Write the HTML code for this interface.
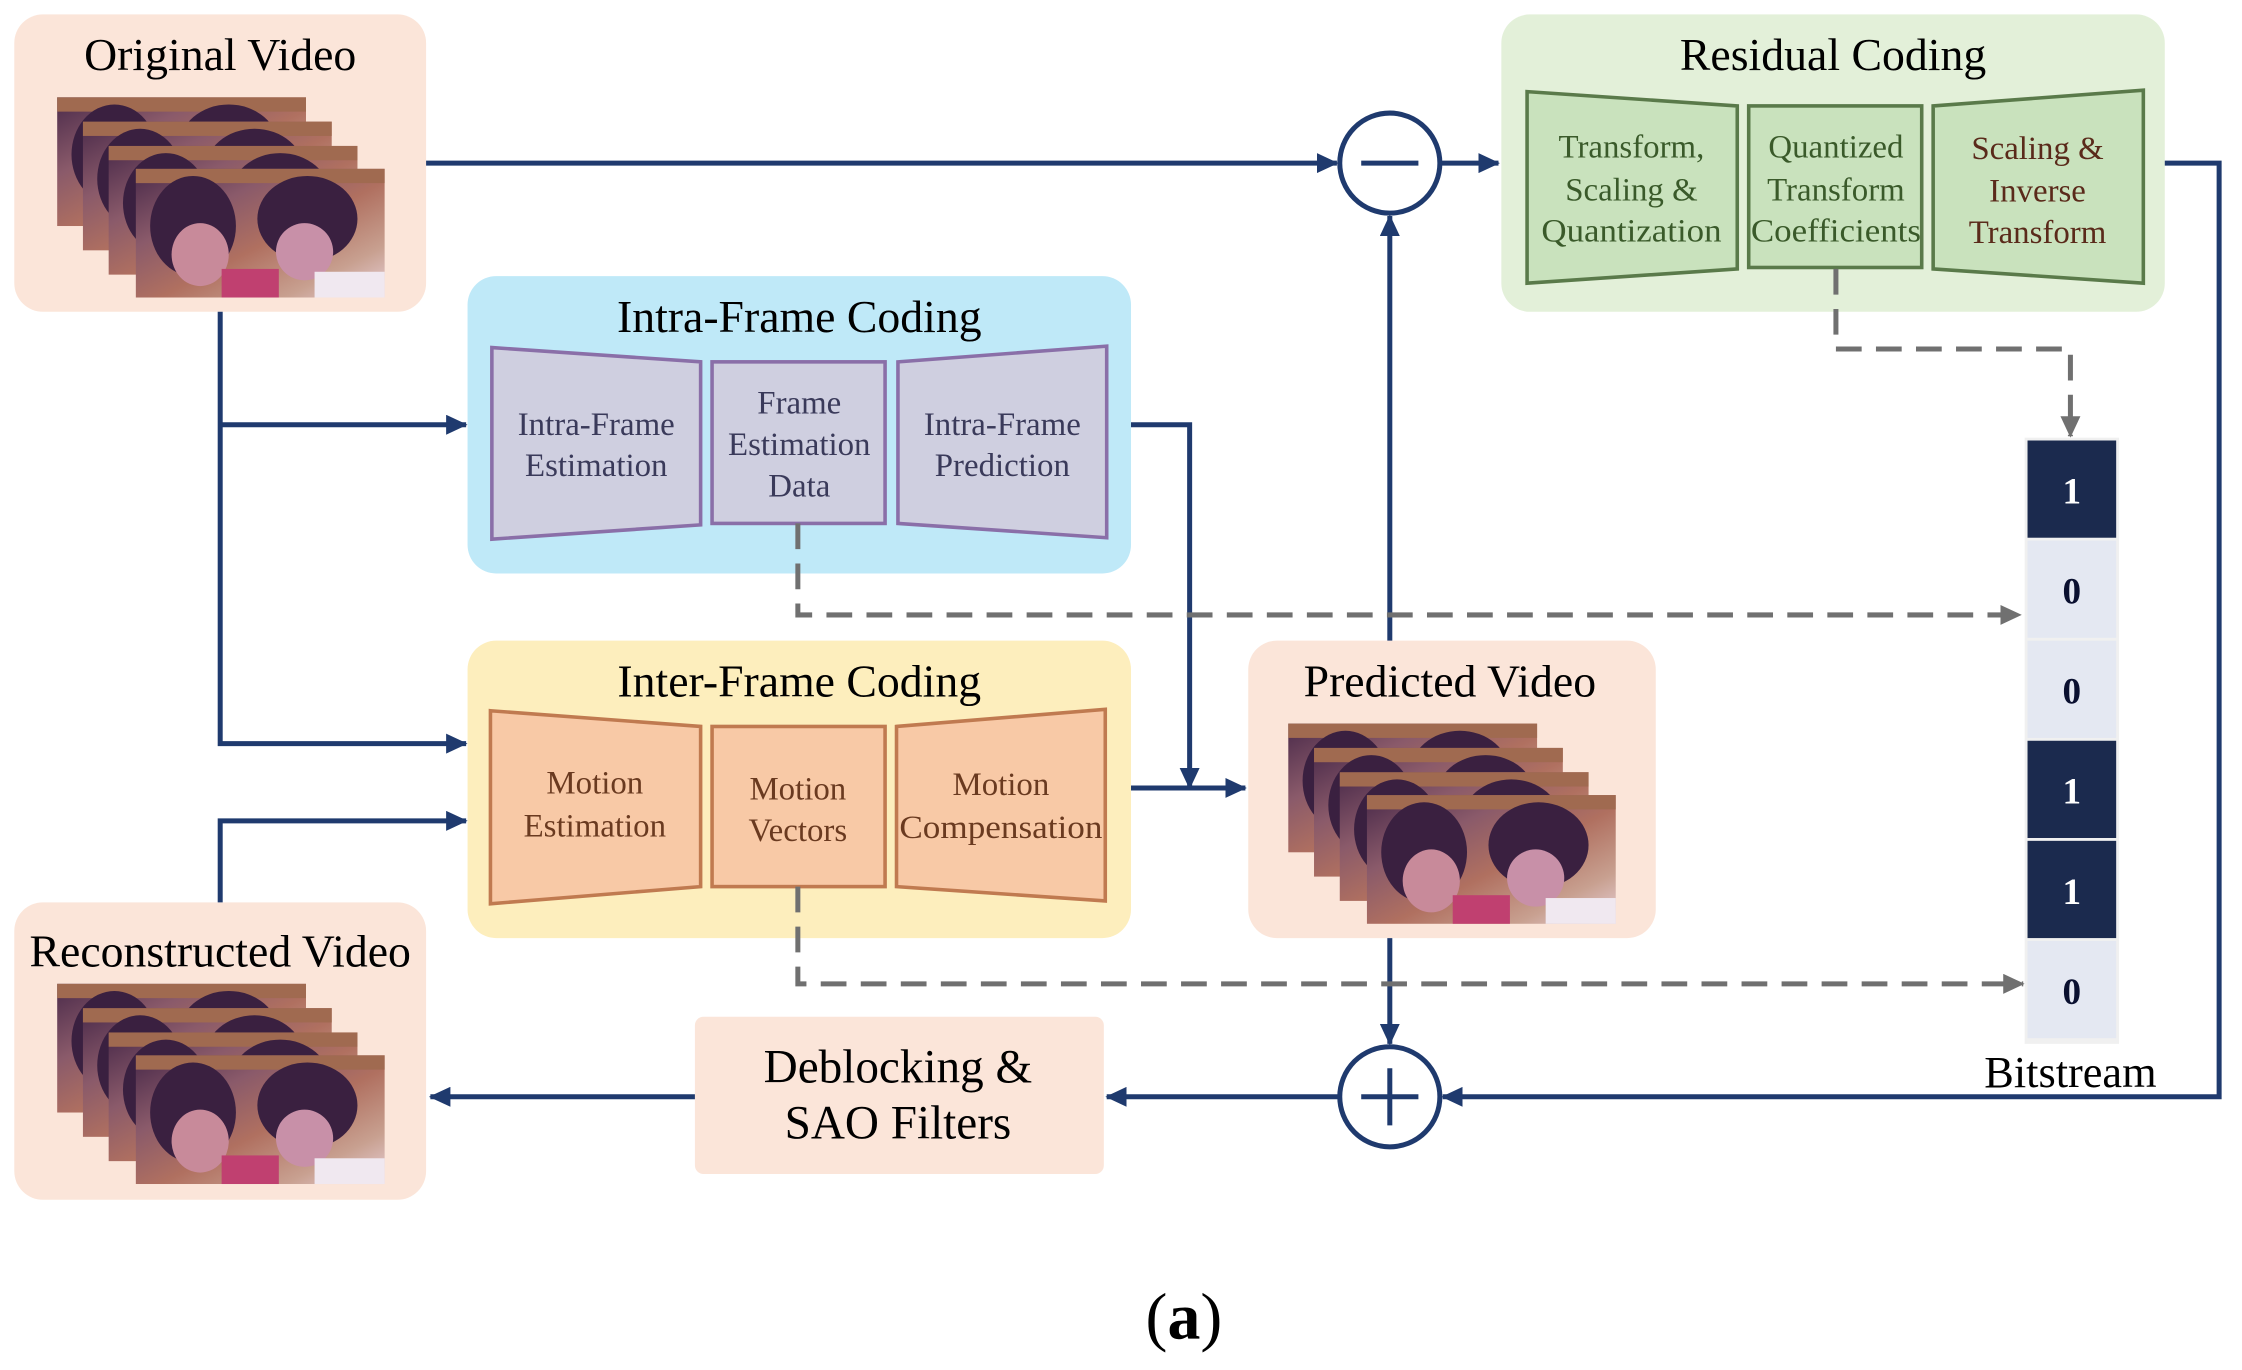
<!DOCTYPE html>
<html><head><meta charset="utf-8"><style>
html,body{margin:0;padding:0;background:#fff;}
svg{display:block;}
text{font-family:"Liberation Serif",serif;}
</style></head><body>
<svg width="2242" height="1370" viewBox="0 0 1568 958" xmlns="http://www.w3.org/2000/svg">
<defs>
<linearGradient id="ph" x1="0" y1="0" x2="1" y2="1">
<stop offset="0" stop-color="#4a2a4a"/><stop offset="0.3" stop-color="#8a5a6a"/><stop offset="0.55" stop-color="#b07060"/><stop offset="0.8" stop-color="#c8a090"/><stop offset="1" stop-color="#e8d0d8"/>
</linearGradient>
<g id="frame">
<rect width="174" height="90" fill="url(#ph)"/>
<rect x="0" y="0" width="174" height="10" fill="#a06a50"/>
<ellipse cx="40" cy="40" rx="30" ry="35" fill="#3a2040"/>
<ellipse cx="45" cy="60" rx="20" ry="22" fill="#c88a9a"/>
<ellipse cx="120" cy="35" rx="35" ry="30" fill="#3a2040"/>
<ellipse cx="118" cy="58" rx="20" ry="20" fill="#c890a8"/>
<rect x="60" y="70" width="40" height="20" fill="#c04070"/>
<rect x="125" y="72" width="49" height="18" fill="#f0e8f0"/>
</g>
<g id="stack">
<use href="#frame" x="0" y="0"/><use href="#frame" x="18" y="17"/><use href="#frame" x="36" y="34"/><use href="#frame" x="55" y="50"/>
</g>
<marker id="ab" markerWidth="15" markerHeight="14" refX="14" refY="7" orient="auto" markerUnits="userSpaceOnUse" viewBox="0 0 15 14"><path d="M0,0 L15,7 L0,14 z" fill="#1f3a6e"/></marker>
<marker id="ag" markerWidth="15" markerHeight="14" refX="14" refY="7" orient="auto" markerUnits="userSpaceOnUse" viewBox="0 0 15 14"><path d="M0,0 L15,7 L0,14 z" fill="#707070"/></marker>
</defs>

<!-- boxes -->
<rect x="10" y="10" width="288" height="208" rx="20" fill="#fbe5d9"/>
<text x="154" y="49" font-size="32" text-anchor="middle">Original Video</text>
<use href="#stack" x="40" y="68"/>

<rect x="10" y="631" width="288" height="208" rx="20" fill="#fbe5d9"/>
<text x="154" y="676" font-size="32" text-anchor="middle">Reconstructed Video</text>
<use href="#stack" x="40" y="688"/>

<rect x="873" y="448" width="285" height="208" rx="20" fill="#fbe5d9"/>
<text x="1014" y="487" font-size="32" text-anchor="middle">Predicted Video</text>
<use href="#stack" x="901" y="506"/>

<rect x="486" y="711" width="286" height="110" rx="6" fill="#fbe5d9"/>
<text x="628" y="757" font-size="33" text-anchor="middle">Deblocking &amp;</text>
<text x="628" y="796" font-size="33" text-anchor="middle">SAO Filters</text>

<!-- intra -->
<rect x="327" y="193" width="464" height="208" rx="20" fill="#bfe9f8"/>
<text x="559" y="232" font-size="32" text-anchor="middle">Intra-Frame Coding</text>
<g fill="#cfcfe0" stroke="#8a6fa8" stroke-width="2.5">
<polygon points="344,243 490,253 490,367 344,377"/>
<rect x="498" y="253" width="121" height="113"/>
<polygon points="628,253 774,242 774,376 628,366"/>
</g>
<g font-size="23" fill="#3a3a5a" text-anchor="middle">
<text x="417" y="304">Intra-Frame</text><text x="417" y="333">Estimation</text>
<text x="559" y="289">Frame</text><text x="559" y="318">Estimation</text><text x="559" y="347">Data</text>
<text x="701" y="304">Intra-Frame</text><text x="701" y="333">Prediction</text>
</g>

<!-- inter -->
<rect x="327" y="448" width="464" height="208" rx="20" fill="#fdeebd"/>
<text x="559" y="487" font-size="32" text-anchor="middle">Inter-Frame Coding</text>
<g fill="#f8c9a6" stroke="#c07a50" stroke-width="2.5">
<polygon points="343,497 490,508 490,620 343,632"/>
<rect x="498" y="508" width="121" height="112"/>
<polygon points="627,508 773,496 773,630 627,620"/>
</g>
<g font-size="23" fill="#6a3a20" text-anchor="middle">
<text x="416" y="555">Motion</text><text x="416" y="585">Estimation</text>
<text x="558" y="559">Motion</text><text x="558" y="588">Vectors</text>
<text x="700" y="556">Motion</text><text x="700" y="586" textLength="142" lengthAdjust="spacingAndGlyphs">Compensation</text>
</g>

<!-- residual -->
<rect x="1050" y="10" width="464" height="208" rx="20" fill="#e3f0d9"/>
<text x="1282" y="49" font-size="32" text-anchor="middle">Residual Coding</text>
<g fill="#c9e2bd" stroke="#5a7a4a" stroke-width="2.5">
<polygon points="1068,64 1215,74 1215,188 1068,198"/>
<rect x="1223" y="74" width="121" height="113"/>
<polygon points="1352,74 1499,63 1499,198 1352,188"/>
</g>
<g font-size="23" text-anchor="middle">
<g fill="#3a5a2a">
<text x="1141" y="110">Transform,</text><text x="1141" y="140">Scaling &amp;</text><text x="1141" y="169" textLength="126" lengthAdjust="spacingAndGlyphs">Quantization</text>
<text x="1284" y="110">Quantized</text><text x="1284" y="140">Transform</text><text x="1284" y="169" textLength="119" lengthAdjust="spacingAndGlyphs">Coefficients</text>
</g>
<g fill="#5a2a1a">
<text x="1425" y="111">Scaling &amp;</text><text x="1425" y="141">Inverse</text><text x="1425" y="170">Transform</text>
</g>
</g>

<!-- bitstream -->
<rect x="1416" y="306" width="66" height="424" fill="#f0f0f0"/>
<g font-family="Liberation Mono" font-weight="bold" font-size="26" text-anchor="middle">
<rect x="1418" y="308" width="62" height="68" fill="#1b2a4e"/><text x="1449" y="352" fill="#fff">1</text>
<rect x="1418" y="378" width="62" height="68" fill="#e4e8f2"/><text x="1449" y="422" fill="#0a1030">0</text>
<rect x="1418" y="448" width="62" height="68" fill="#e4e8f2"/><text x="1449" y="492" fill="#0a1030">0</text>
<rect x="1418" y="518" width="62" height="68" fill="#1b2a4e"/><text x="1449" y="562" fill="#fff">1</text>
<rect x="1418" y="588" width="62" height="68" fill="#1b2a4e"/><text x="1449" y="632" fill="#fff">1</text>
<rect x="1418" y="658" width="62" height="68" fill="#e4e8f2"/><text x="1449" y="702" fill="#0a1030">0</text>
</g>
<text x="1448" y="760" font-size="31" text-anchor="middle">Bitstream</text>

<!-- circles -->
<g fill="none" stroke="#1f3a6e" stroke-width="3.5">
<circle cx="972" cy="114" r="35"/>
<circle cx="972" cy="767" r="35"/>
<line x1="952" y1="114" x2="992" y2="114"/>
<line x1="952" y1="767" x2="992" y2="767"/>
<line x1="972" y1="747" x2="972" y2="787"/>
</g>

<!-- connectors -->
<g fill="none" stroke="#1f3a6e" stroke-width="3.5" marker-end="url(#ab)">
<path d="M298,114 H935"/>
<path d="M1007,114 H1048"/>
<path d="M1514,114 H1552 V767 H1009"/>
<path d="M972,448 V151"/>
<path d="M972,656 V730"/>
<path d="M937,767 H774"/>
<path d="M486,767 H301"/>
<path d="M154,218 V520 H326"/>
<path d="M154,297 H326"/>
<path d="M154,631 V574 H326"/>
<path d="M791,297 H832 V551"/>
<path d="M791,551 H871"/>
</g>
<g fill="none" stroke="#707070" stroke-width="3.5" stroke-dasharray="18,10" marker-end="url(#ag)">
<path d="M1284,188 V244 H1448 V305"/>
<path d="M558,366 V430 H1413"/>
<path d="M558,620 V688 H1415"/>
</g>

<text x="828" y="936" font-size="46" text-anchor="middle">(<tspan font-weight="bold">a</tspan>)</text>
</svg>
</body></html>
